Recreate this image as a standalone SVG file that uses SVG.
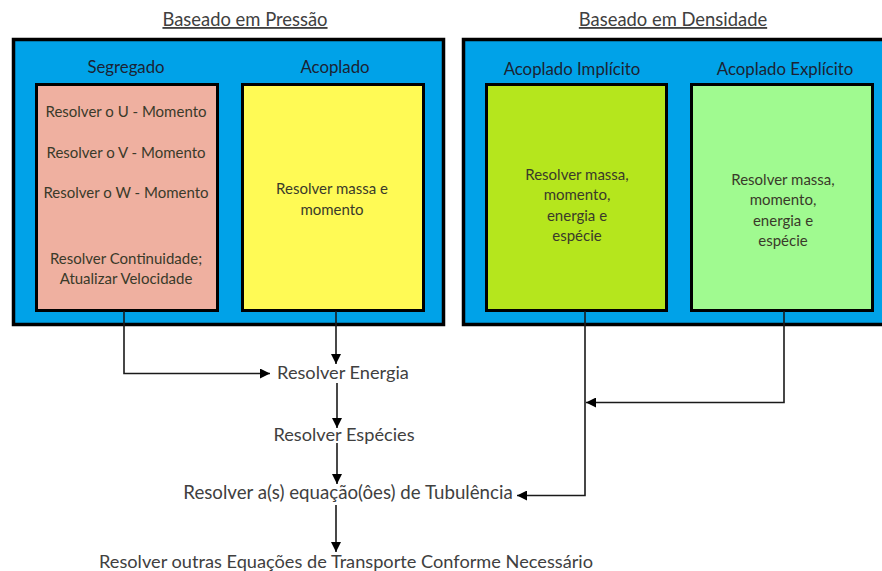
<svg xmlns="http://www.w3.org/2000/svg" width="882" height="571" viewBox="0 0 882 571">
<defs>
<style>
text{font-family:Lato,"Open Sans","Liberation Sans",sans-serif;text-anchor:middle}
.title{font-size:18.4px;fill:#404040;text-decoration:underline}
.grp{font-size:16.8px;fill:#1c2333}
.inner{font-size:15px;fill:#3a3a2a}
.flow{font-size:18.2px;fill:#404040}
.outer{fill:#00A2E8;stroke:#000;stroke-width:3.5}
.box{stroke:#000;stroke-width:3}
.conn{fill:none;stroke:#1a1a1a;stroke-width:1.6}
</style>
<marker id="ah" viewBox="0 0 10 10" refX="10" refY="5" markerWidth="10" markerHeight="10" markerUnits="userSpaceOnUse" orient="auto">
<path d="M0,0 L10,5 L0,10 z" fill="#000"/>
</marker>
</defs>
<rect width="882" height="571" fill="#fff"/>
<g id="pressao">
<text class="title" x="245" y="26">Baseado em Pressão</text>
<rect class="outer" x="13.5" y="39.5" width="430" height="285"/>
</g>
<g id="densidade">
<text class="title" x="673" y="26">Baseado em Densidade</text>
<rect class="outer" x="463.5" y="39.5" width="430" height="285"/>
</g>
<g id="segregado">
<text class="grp" x="126" y="73">Segregado</text>
<rect class="box" x="36.5" y="84.5" width="181" height="226" fill="#EFB0A0"/>
<text class="inner" x="126" y="117">Resolver o U - Momento</text>
<text class="inner" x="126" y="158">Resolver o V - Momento</text>
<text class="inner" x="126" y="198">Resolver o W - Momento</text>
<text class="inner" x="126" y="264">Resolver Continuidade;</text>
<text class="inner" x="126" y="284">Atualizar Velocidade</text>
</g>
<g id="acoplado">
<text class="grp" x="335" y="73">Acoplado</text>
<rect class="box" x="242.5" y="84.5" width="181" height="226" fill="#FFFA55"/>
<text class="inner" x="332" y="194">Resolver massa e</text>
<text class="inner" x="332" y="215">momento</text>
</g>
<g id="implicito">
<text class="grp" x="572" y="75">Acoplado Implícito</text>
<rect class="box" x="486.5" y="84.5" width="180" height="226" fill="#B5E61D"/>
<text class="inner" x="577" y="180">Resolver massa,</text>
<text class="inner" x="577" y="200">momento,</text>
<text class="inner" x="577" y="221">energia e</text>
<text class="inner" x="577" y="241">espécie</text>
</g>
<g id="explicito">
<text class="grp" x="785" y="75">Acoplado Explícito</text>
<rect class="box" x="691.5" y="84.5" width="181" height="226" fill="#A0FA90"/>
<text class="inner" x="783" y="185">Resolver massa,</text>
<text class="inner" x="783" y="205">momento,</text>
<text class="inner" x="783" y="226">energia e</text>
<text class="inner" x="783" y="246">espécie</text>
</g>
<g id="energia"><text class="flow" x="343" y="379">Resolver Energia</text></g>
<g id="especies"><text class="flow" x="344" y="441">Resolver Espécies</text></g>
<g id="turbulencia"><text class="flow" x="348" y="499" style="font-size:18.7px">Resolver a(s) equação(ôes) de Tubulência</text></g>
<g id="outras"><text class="flow" x="346" y="568">Resolver outras Equações de Transporte Conforme Necessário</text></g>
<g id="connectors">
<path class="conn" d="M124,311 V373.5 H270" marker-end="url(#ah)"/>
<path class="conn" d="M336,311 V364" marker-end="url(#ah)"/>
<path class="conn" d="M337,383 V428" marker-end="url(#ah)"/>
<path class="conn" d="M337,443 V484" marker-end="url(#ah)"/>
<path class="conn" d="M336,505 V552" marker-end="url(#ah)"/>
<path class="conn" d="M585,311 V495.5 H517" marker-end="url(#ah)"/>
<path class="conn" d="M784,311 V402.5 H586" marker-end="url(#ah)"/>
</g>
</svg>
